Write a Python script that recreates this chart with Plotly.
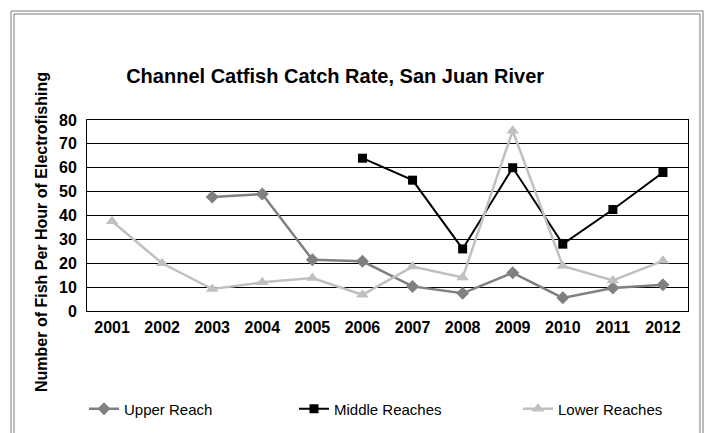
import plotly.graph_objects as go

years = ["2001", "2002", "2003", "2004", "2005", "2006", "2007", "2008", "2009", "2010", "2011", "2012"]
upper_reach = [None, None, 47.7, 49.0, 21.5, 20.8, 10.3, 7.4, 16.0, 5.5, 9.6, 11.0]
middle_reaches = [None, None, None, None, None, 64.0, 54.8, 26.0, 60.0, 28.0, 42.5, 58.0]
lower_reaches = [37.6, 20.0, 9.2, 12.0, 13.8, 6.8, 18.6, 14.0, 75.5, 18.9, 12.8, 21.0]

FONT = "Liberation Sans, Arial, sans-serif"

fig = go.Figure()
fig.add_trace(go.Scatter(x=years, y=upper_reach, name="Upper Reach", mode="lines+markers",
                         line=dict(color="#808080", width=2.5), legend="legend",
                         marker=dict(symbol="diamond", size=10, color="#808080")))
fig.add_trace(go.Scatter(x=years, y=middle_reaches, name="Middle Reaches", mode="lines+markers",
                         line=dict(color="#000000", width=2), legend="legend2",
                         marker=dict(symbol="square", size=9, color="#000000")))
fig.add_trace(go.Scatter(x=years, y=lower_reaches, name="Lower Reaches", mode="lines+markers",
                         line=dict(color="#c0c0c0", width=2.5), legend="legend3",
                         marker=dict(symbol="triangle-up", size=11, color="#c0c0c0")))

def leg(px):
    return dict(orientation="h", x=(px - 87) / 601, xanchor="left",
                y=(311 - 409) / 191, yanchor="middle",
                font=dict(size=15, family=FONT, color="black"),
                itemwidth=30, bgcolor="rgba(0,0,0,0)")

fig.update_layout(
    width=707, height=433,
    margin=dict(l=87, r=19, t=120, b=122, autoexpand=False),
    paper_bgcolor="white", plot_bgcolor="white",
    font=dict(family=FONT, color="black"),
    title=dict(text="<b>Channel Catfish Catch Rate, San Juan River</b>",
               font=dict(size=20, family=FONT, color="black"),
               x=0.474, xanchor="center", y=1 - 76 / 433, yanchor="middle", yref="container"),
    xaxis=dict(type="category", range=[-0.5, 11.5], showgrid=False,
               showline=True, linecolor="black", linewidth=1, mirror=True,
               ticks="", tickfont=dict(size=16, family=FONT, color="black", weight="bold"),
               ticklabelstandoff=2),
    yaxis=dict(range=[0, 80], dtick=10, showgrid=True, gridcolor="black", gridwidth=1,
               showline=True, linecolor="black", linewidth=1, mirror=True, zeroline=False,
               ticks="", tickfont=dict(size=16, family=FONT, color="black", weight="bold"),
               ticklabelstandoff=6),
    legend=leg(84), legend2=leg(294), legend3=leg(518),
    showlegend=True,
)

fig.add_annotation(text="<b>Number of Fish Per Hour of Electrofishing</b>", textangle=-90,
                   xref="paper", yref="paper", x=(41 - 87) / 601, y=(311 - 232) / 191,
                   xanchor="center", yanchor="middle", showarrow=False,
                   font=dict(size=16, family=FONT, color="black"))

# outer chart border (double grey line)
for off in (0, 3):
    fig.add_shape(type="rect", xref="paper", yref="paper",
                  x0=(11 + off - 87) / 601, x1=(703 - off - 87) / 601,
                  y0=(311 - 445) / 191, y1=(311 - 11 - off) / 191,
                  line=dict(color="#7a7a7a", width=1), fillcolor="rgba(0,0,0,0)", layer="below")

fig.write_html("out.html")
